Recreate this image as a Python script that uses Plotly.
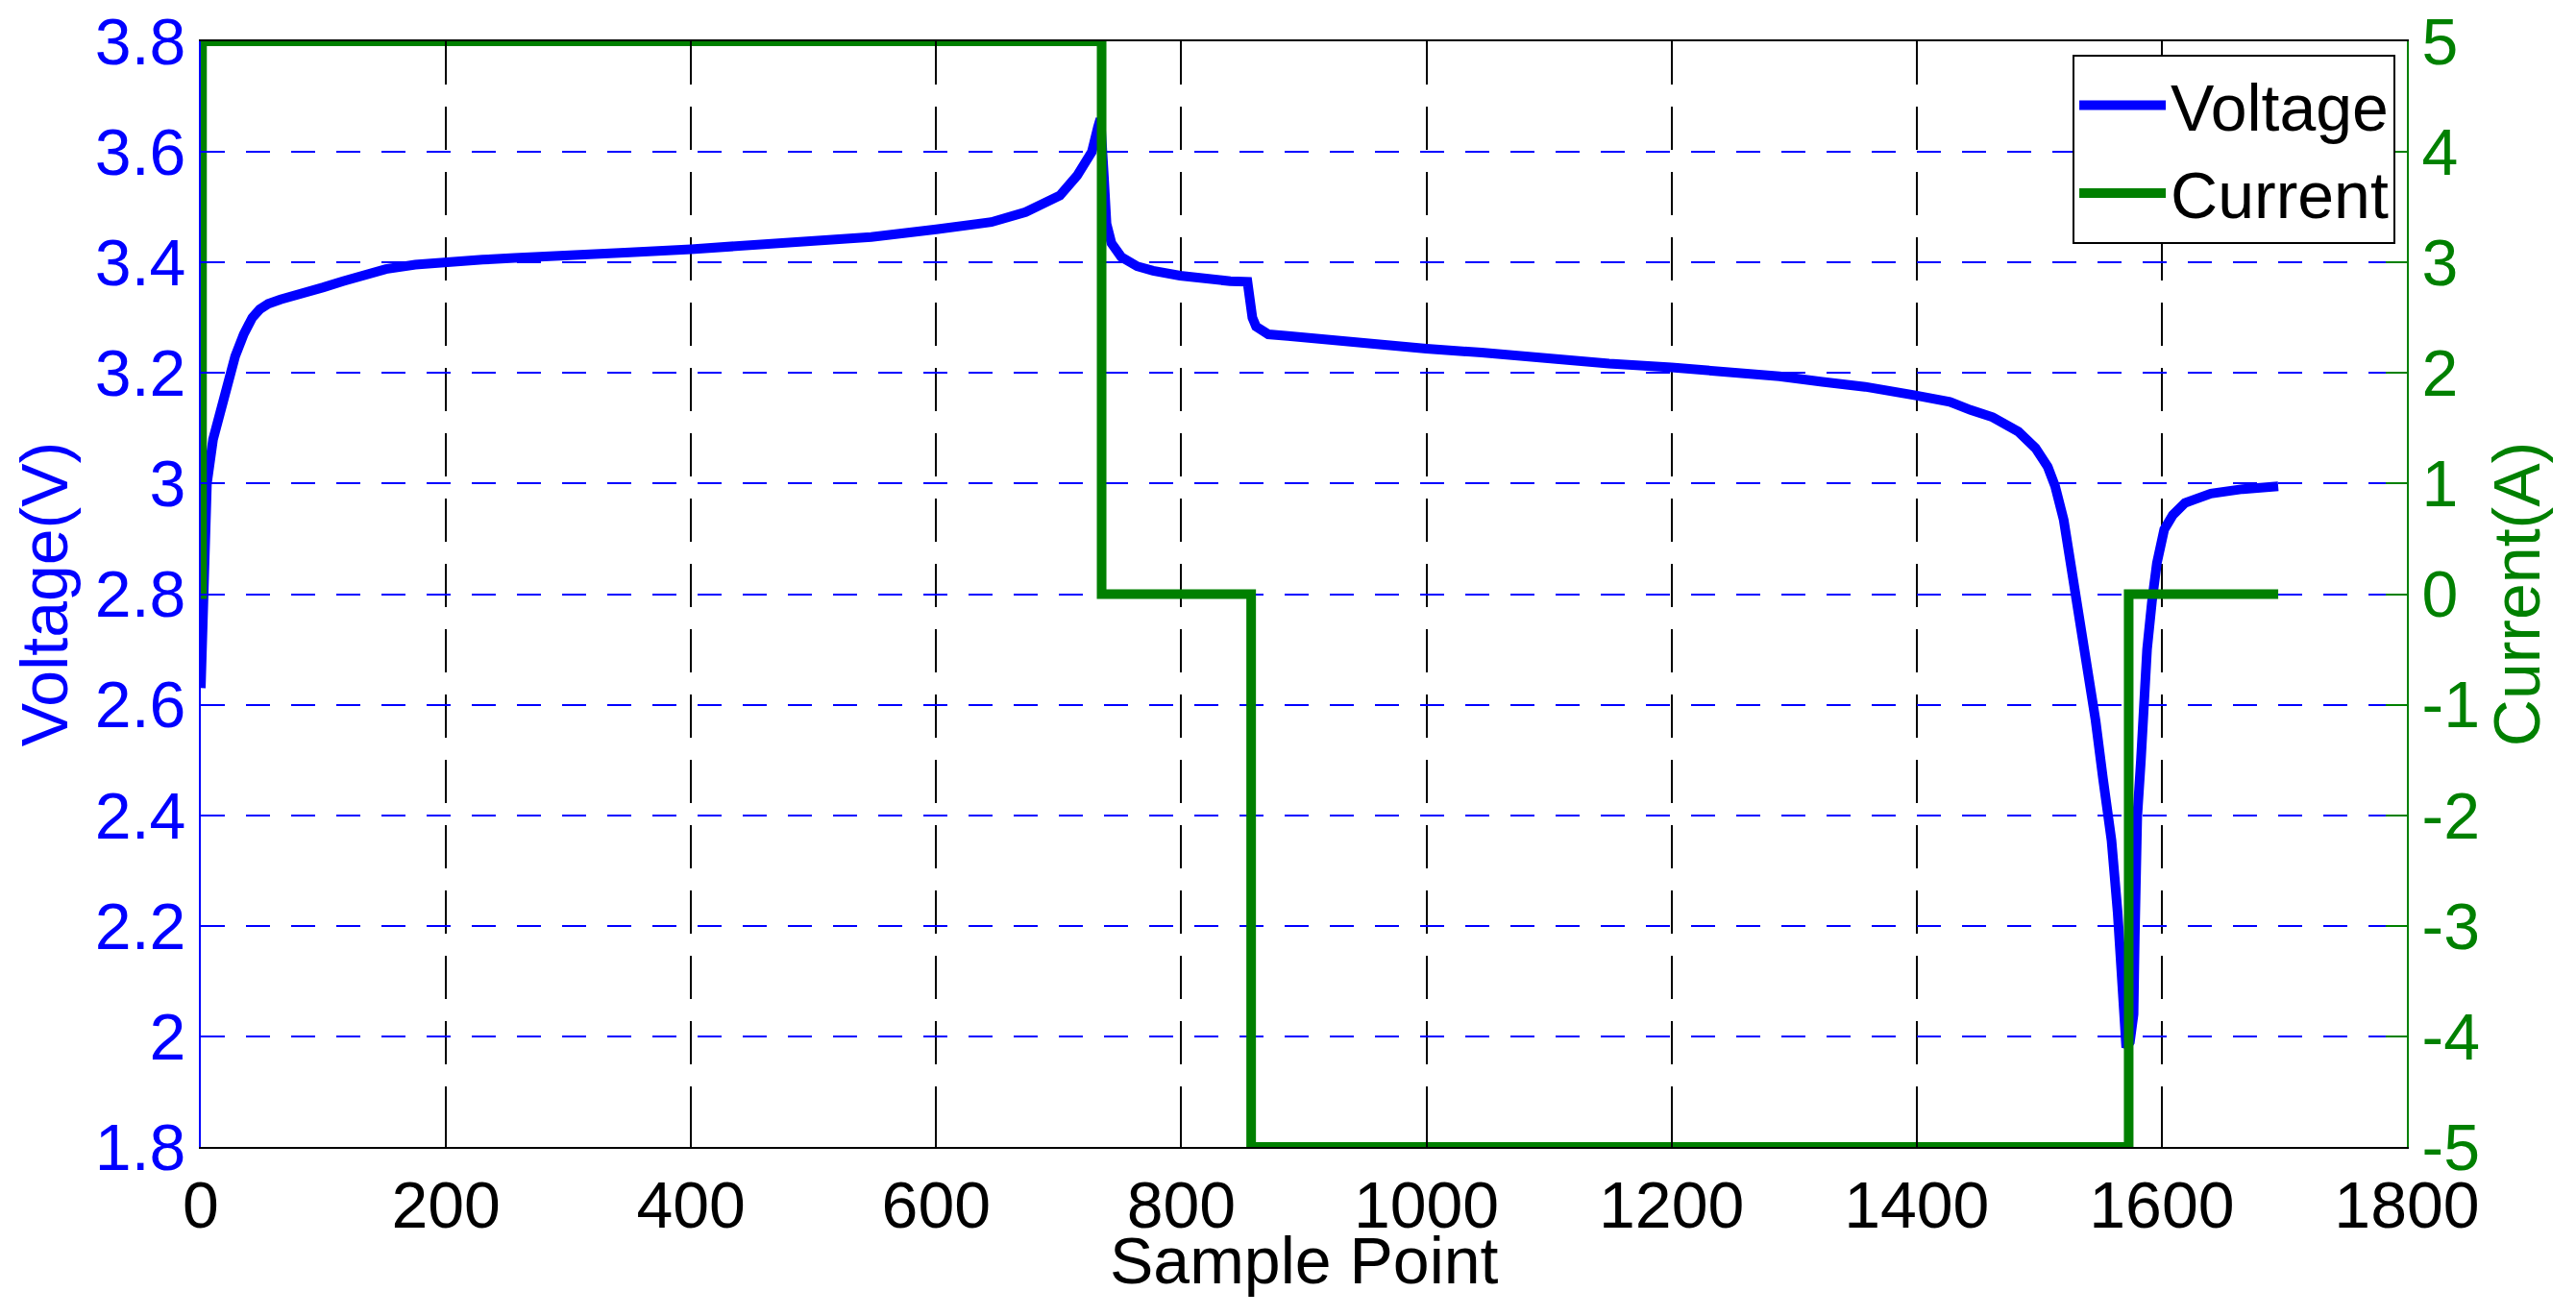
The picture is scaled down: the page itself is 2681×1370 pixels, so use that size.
import plotly.graph_objects as go

# Voltage trace (sample point, volts)
sample_v = [0, 2, 5, 10, 16, 22, 28, 35, 42, 48, 55, 65, 81, 100, 116, 135, 151,
            175, 197, 230, 256, 300, 350, 400, 448, 504, 547, 600, 645, 673, 701,
            715, 727, 732, 734, 737, 739, 743, 751, 764, 777, 799, 816, 840, 854,
            856, 858, 861, 866, 871, 887, 908, 934, 960, 1000, 1045, 1080, 1114,
            1149, 1200, 1254, 1288, 1323, 1358, 1398, 1427, 1444, 1462, 1483, 1497,
            1507, 1513, 1520, 1526, 1533, 1539, 1546, 1552, 1559, 1564, 1567, 1569,
            1571, 1574, 1577, 1578, 1580, 1583, 1585, 1588, 1592, 1596, 1602, 1609,
            1619, 1640, 1666, 1695]
voltage = [2.63, 2.80, 3.00, 3.08, 3.13, 3.18, 3.23, 3.27, 3.30, 3.315, 3.325, 3.333,
           3.345, 3.355, 3.366, 3.378, 3.388, 3.396, 3.401, 3.405, 3.408, 3.411, 3.418,
           3.424, 3.430, 3.439, 3.446, 3.460, 3.473, 3.491, 3.521, 3.557, 3.600, 3.645,
           3.660, 3.55, 3.47, 3.435, 3.410, 3.393, 3.385, 3.376, 3.371, 3.366, 3.365,
           3.33, 3.30, 3.284, 3.275, 3.270, 3.267, 3.262, 3.258, 3.253, 3.244, 3.237,
           3.229, 3.222, 3.217, 3.210, 3.201, 3.194, 3.184, 3.175, 3.160, 3.148, 3.133,
           3.120, 3.094, 3.064, 3.030, 2.995, 2.934, 2.856, 2.761, 2.666, 2.571, 2.467,
           2.354, 2.224, 2.094, 2.00, 1.98, 1.99, 2.04, 2.18, 2.397, 2.50, 2.597, 2.70,
           2.787, 2.856, 2.917, 2.943, 2.965, 2.982, 2.990, 2.995]

# Current steps (value holds until the next sample point)
sample_i = [0, 1, 735, 857, 1573, 1695]
current = [0, 5, 0, -5, 0, 0]

x_ticks = [0, 200, 400, 600, 800, 1000, 1200, 1400, 1600, 1800]
v_ticks = [1.8, 2.0, 2.2, 2.4, 2.6, 2.8, 3.0, 3.2, 3.4, 3.6, 3.8]
v_labels = ["1.8", "2", "2.2", "2.4", "2.6", "2.8", "3", "3.2", "3.4", "3.6", "3.8"]
i_ticks = [-5, -4, -3, -2, -1, 0, 1, 2, 3, 4, 5]
i_labels = ["-5", "-4", "-3", "-2", "-1", "0", "1", "2", "3", "4", "5"]

BLUE = "rgb(0,0,255)"
GREEN = "rgb(0,128,0)"
FONT = "Liberation Sans, Arial, sans-serif"
FS = 68

fig = go.Figure()
fig.add_trace(go.Scatter(x=sample_v, y=voltage, mode="lines", name="Voltage",
                         line=dict(color=BLUE, width=10), yaxis="y"))
fig.add_trace(go.Scatter(x=sample_i, y=current, mode="lines", name="Current",
                         line=dict(color=GREEN, width=10, shape="hv"), yaxis="y2"))

# page body has an 8px margin, so the figure is 8px smaller than the window
fig.update_layout(
    width=2673, height=1362,
    margin=dict(l=201, r=176, t=35, b=176),
    paper_bgcolor="white", plot_bgcolor="white",
    font=dict(family=FONT, size=FS, color="black"),
    showlegend=True,
    legend=dict(x=0.9948, y=0.988, xanchor="right", yanchor="top",
                bgcolor="white", bordercolor="black", borderwidth=2,
                font=dict(size=FS, color="black"), itemwidth=90,
                tracegroupgap=0),
    xaxis=dict(range=[0, 1800], tickvals=x_ticks, ticktext=[str(t) for t in x_ticks],
               showgrid=True, gridcolor="black", gridwidth=2, griddash="45px,23px",
               showline=True, linecolor="black", linewidth=2, mirror="ticks",
               ticks="inside", ticklen=18, tickwidth=2, tickcolor="black",
               tickfont=dict(size=FS, color="black"), zeroline=False,
               automargin=False, ticklabeloverflow="allow"),
    yaxis=dict(range=[1.8, 3.8], tickvals=v_ticks, ticktext=v_labels,
               showgrid=True, gridcolor=BLUE, gridwidth=2, griddash="25px,22px",
               showline=True, linecolor=BLUE, linewidth=2,
               ticks="inside", ticklen=22, tickwidth=2, tickcolor=BLUE,
               tickfont=dict(size=FS, color=BLUE), zeroline=False,
               automargin=False, ticklabeloverflow="allow",
               title=dict(text="Voltage(V)", font=dict(size=FS, color=BLUE),
                          standoff=10)),
    yaxis2=dict(range=[-5, 5], tickvals=i_ticks, ticktext=i_labels,
                overlaying="y", side="right", showgrid=False,
                showline=True, linecolor=GREEN, linewidth=2,
                ticks="inside", ticklen=22, tickwidth=2, tickcolor=GREEN,
                tickfont=dict(size=FS, color=GREEN), zeroline=False,
                automargin=False, ticklabeloverflow="allow",
                title=dict(text="Current(A)", font=dict(size=FS, color=GREEN),
                           standoff=10)),
)

# x-axis title sits closer to the tick labels than plotly's standoff allows
fig.add_annotation(text="Sample Point", xref="paper", yref="paper", x=0.5, y=0,
                   xanchor="center", yanchor="top", yshift=-78, showarrow=False,
                   font=dict(size=FS, color="black"))

fig.write_html("out.html")
